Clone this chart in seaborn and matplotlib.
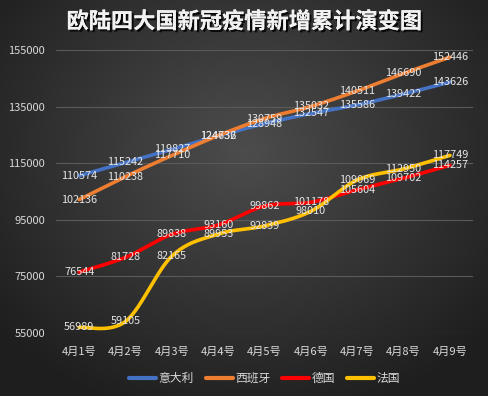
import numpy as np
import pandas as pd
import matplotlib
matplotlib.use("Agg")
import matplotlib.pyplot as plt
import matplotlib.patheffects as pe
import seaborn as sns

# 数据
dates = ['4月1号', '4月2号', '4月3号', '4月4号', '4月5号', '4月6号', '4月7号', '4月8号', '4月9号']
italy = [110574, 115242, 119827, 124632, 128948, 132547, 135586, 139422, 143626]
spain = [102136, 110238, 117710, 124736, 130759, 135032, 140511, 146690, 152446]
germany = [76544, 81728, 89838, 93160, 99862, 101178, 105604, 109702, 114257]
france = [56989, 59105, 82165, 89953, 92839, 98010, 109069, 112950, 117749]
names = ['意大利', '西班牙', '德国', '法国']
colors = ['#4472C4', '#ED7D31', '#FF0000', '#FFC000']
y_ticks = [55000, 75000, 95000, 115000, 135000, 155000]


def smooth(ys, n=30):
    # 平滑曲线 (类似Excel的平滑线)
    pts = np.column_stack([np.arange(len(ys)), np.array(ys, dtype=float)])
    p = np.vstack([pts[0], pts, pts[-1]])
    out = []
    t = np.linspace(0, 1, n)[:, None]
    for i in range(1, len(p) - 2):
        p0, p1, p2, p3 = p[i - 1], p[i], p[i + 1], p[i + 2]
        c1 = p1 + (p2 - p0) / 6
        c2 = p2 - (p3 - p1) / 6
        seg = ((1 - t) ** 3) * p1 + 3 * ((1 - t) ** 2) * t * c1 + 3 * (1 - t) * t ** 2 * c2 + t ** 3 * p2
        out.append(seg)
    out = np.vstack(out)
    return out[:, 0], out[:, 1]


sns.set_theme(style="dark")
plt.rcParams['font.family'] = ['Noto Sans CJK SC', 'DejaVu Sans']

fig = plt.figure(figsize=(4.89, 3.96), dpi=100)

# 背景渐变
bg = fig.add_axes([0, 0, 1, 1], zorder=-10)
yy, xx = np.mgrid[0:396, 0:489]
r = np.sqrt(((xx - 244) / 300.0) ** 2 + ((yy - 150) / 260.0) ** 2)
shade = np.clip(0.30 - 0.17 * r, 0.12, 0.30)
bg.imshow(np.dstack([shade, shade, shade]), aspect='auto', extent=[0, 1, 0, 1])
bg.axis('off')

ax = fig.add_axes([0.1145, 0.159, 0.853, 0.715])
ax.set_facecolor('none')

series = [italy, spain, germany, france]
for vals, name, c in zip(series, names, colors):
    sx, sy = smooth(vals)
    sns.lineplot(x=sx, y=sy, color=c, linewidth=2.6, ax=ax, label=name, sort=False,
                 solid_capstyle='round')

for vals in series:
    for i, v in enumerate(vals):
        ax.text(i, v, str(v), ha='center', va='center', fontsize=7.8, color='#e6e6e6', zorder=5)

ax.set_xlim(-0.5, len(dates) - 0.5)
ax.set_ylim(55000, 155000)
ax.set_xticks(range(len(dates)))
ax.set_xticklabels(dates)
ax.set_yticks(y_ticks)
ax.set_yticklabels([str(v) for v in y_ticks])
ax.tick_params(axis='both', colors='#d9d9d9', labelsize=8, length=0)
ax.tick_params(axis='y', pad=8)
ax.tick_params(axis='x', pad=10)
ax.grid(True, axis='y', color='#5a5a5a', linewidth=0.8)
ax.grid(False, axis='x')
for s in ax.spines.values():
    s.set_visible(False)
ax.set_xlabel('')
ax.set_ylabel('')

leg = ax.legend(loc='center', bbox_to_anchor=(0.5, -0.16), ncol=4, frameon=False,
                fontsize=8.5, handlelength=2.3, columnspacing=1.0, handletextpad=0.2)
for t in leg.get_texts():
    t.set_color('#d9d9d9')
for h in leg.get_lines():
    h.set_linewidth(3)

fig.text(0.5, 0.945, '欧陆四大国新冠疫情新增累计演变图', ha='center', va='center',
         fontsize=16, fontweight='bold', color='#f2f2f2',
         path_effects=[pe.withSimplePatchShadow(offset=(1.5, -1.5), shadow_rgbFace='black', alpha=0.8),
                       pe.Normal()])

fig.savefig('out.png', dpi=100)
